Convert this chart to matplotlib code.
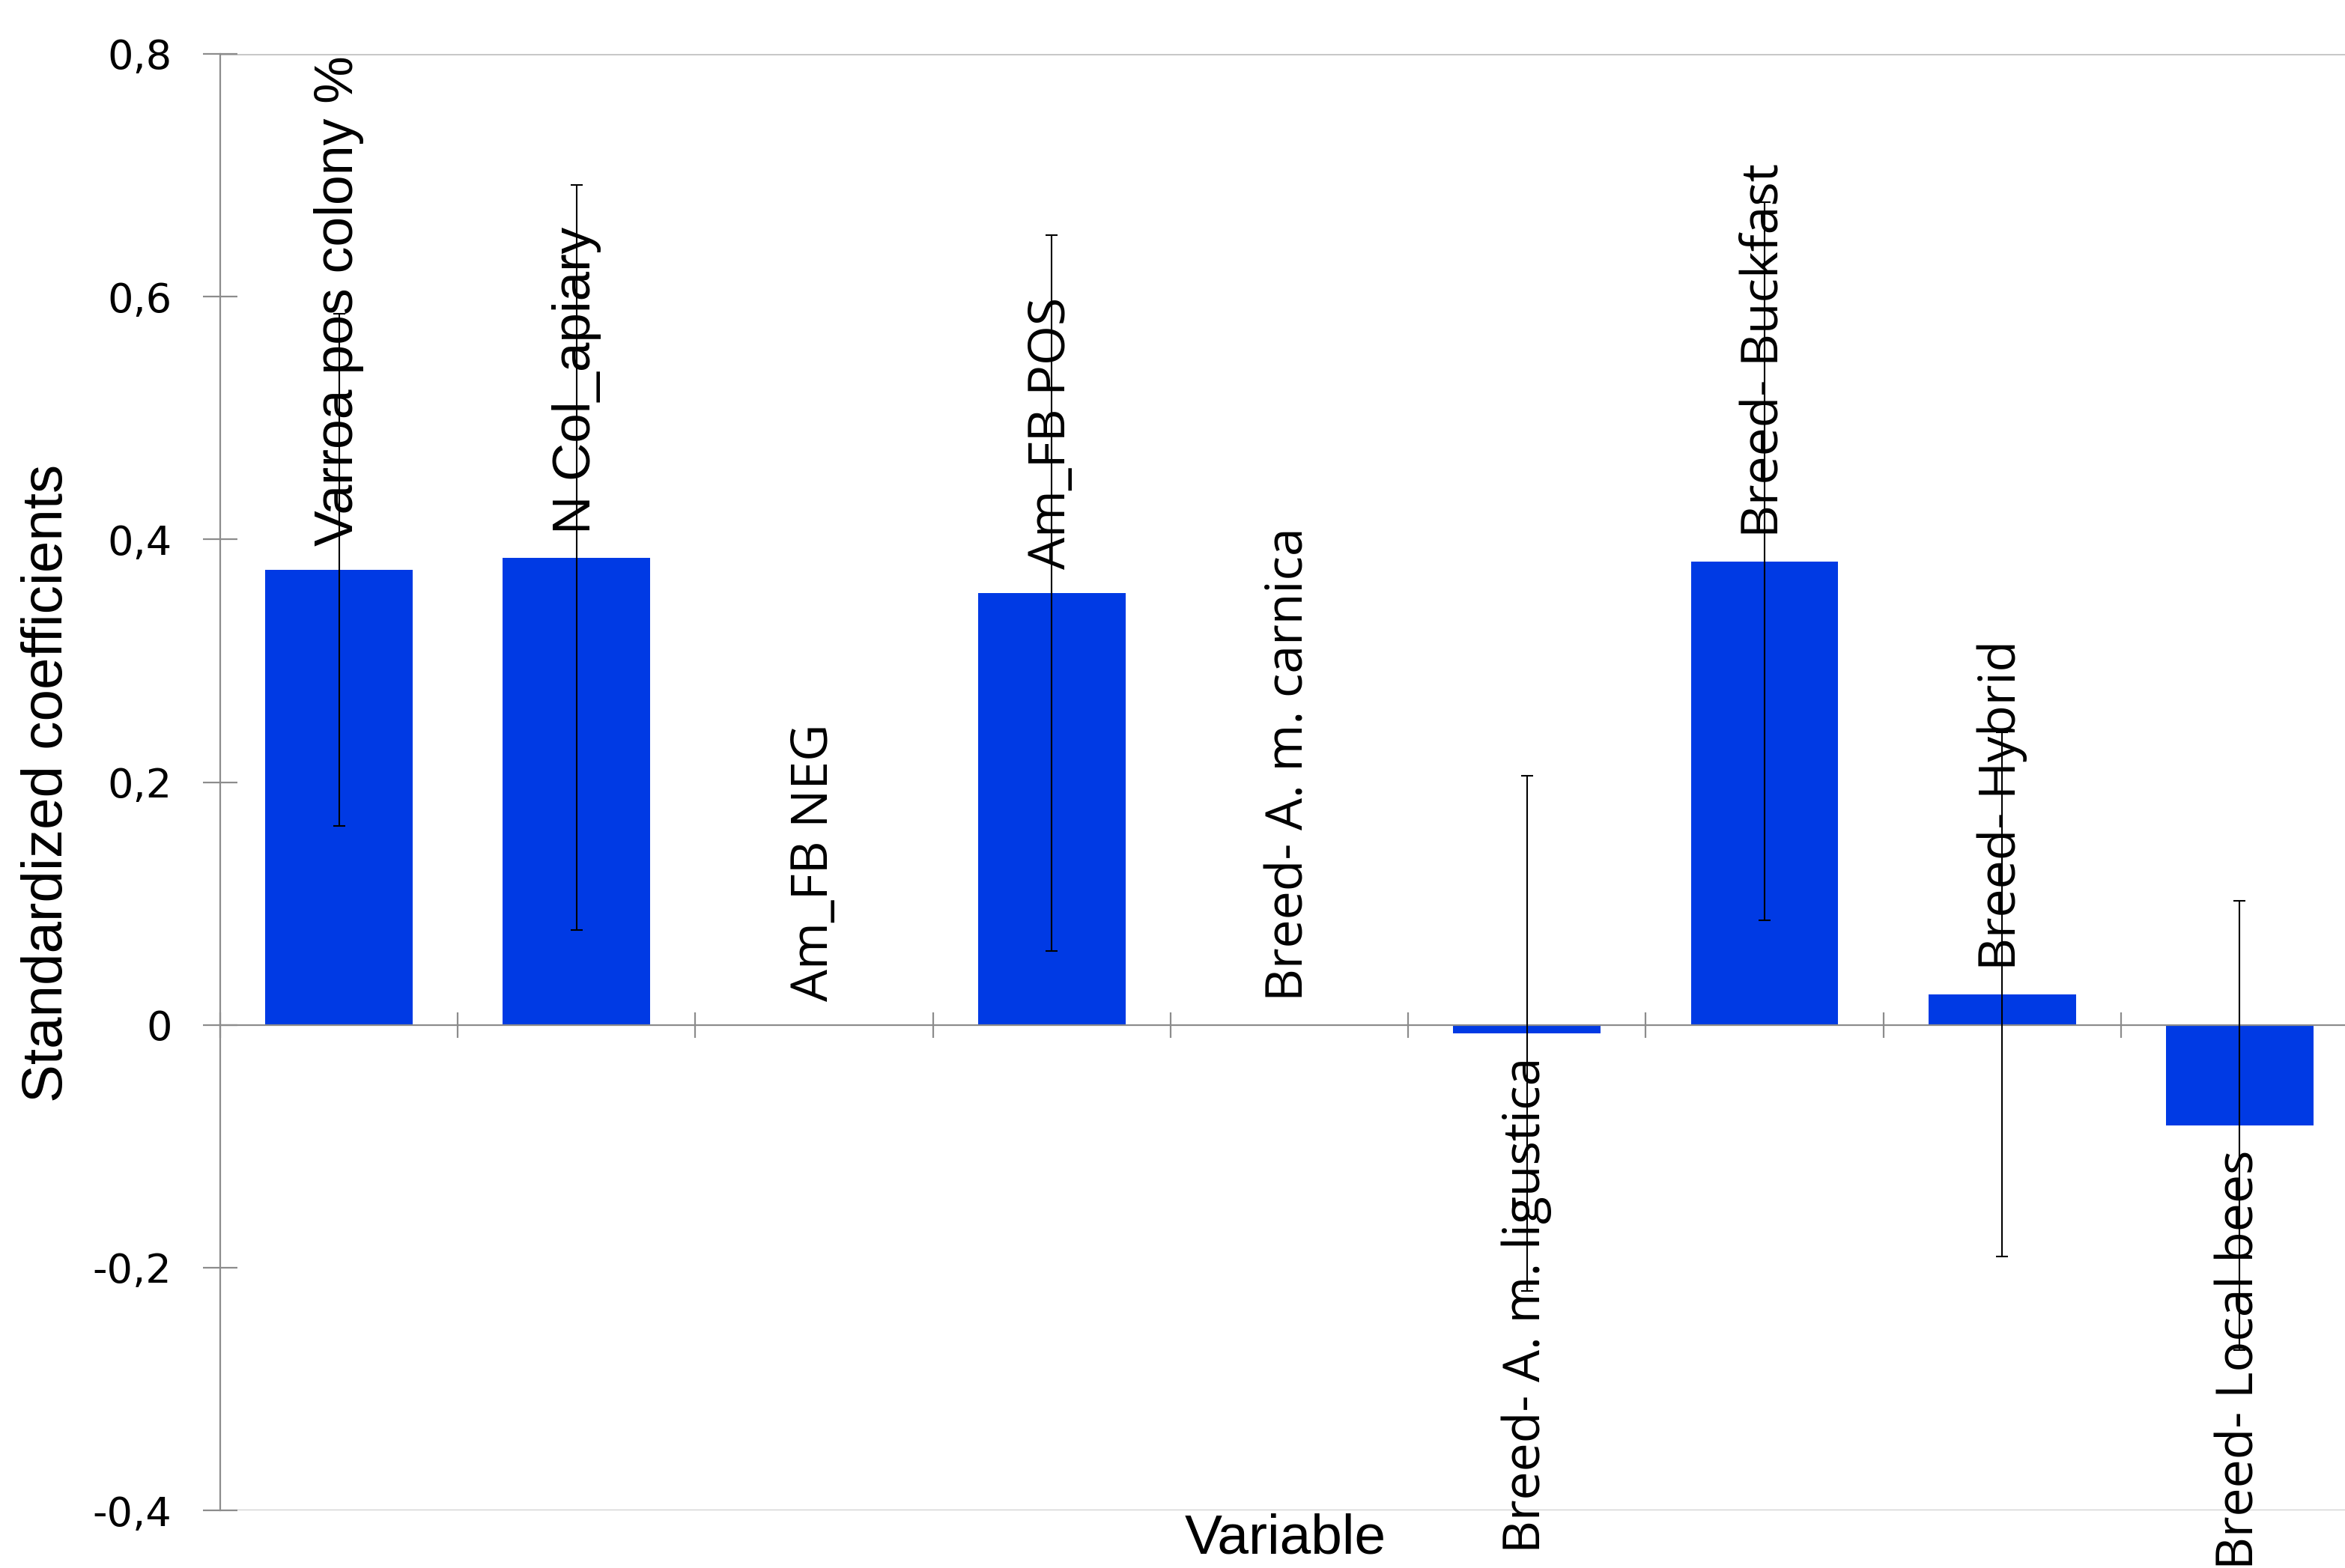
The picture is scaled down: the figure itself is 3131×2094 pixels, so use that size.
import numpy as np
import matplotlib
matplotlib.use("Agg")
import matplotlib.pyplot as plt
from matplotlib.ticker import FuncFormatter

# dados do grafico
variaveis = ["Varroa pos colony %", "N Col_apiary", "Am_FB NEG", "Am_FB POS",
             "Breed- A. m. carnica", "Breed- A. m. ligustica", "Breed- Buckfast",
             "Breed- Hybrid", "Breed- Local bees"]
coeficientes = [0.375, 0.385, 0.0, 0.356, 0.0, -0.007, 0.382, 0.025, -0.083]
erros = [0.211, 0.307, np.nan, 0.295, np.nan, 0.212, 0.296, 0.216, 0.185]
fonte_rotulo = ["Liberation Sans", "Liberation Sans", "Open Sans", "Open Sans",
                "Open Sans", "Open Sans", "Open Sans", "Open Sans", "Open Sans"]
tamanho_rotulo = [51.5, 51, 49, 49, 49, 49, 49, 49, 49]
y_ticks = [-0.4, -0.2, 0.0, 0.2, 0.4, 0.6, 0.8]

azul = "#003ae4"
cinza = "#8c8c8c"

W, H = 3131, 2094
fig = plt.figure(figsize=(W / 100, H / 100), dpi=100)
# eixo passa da borda direita da figura (o original esta cortado)
ax = fig.add_axes([294 / W, 77 / H, 2855 / W, 1945 / H])

x = np.arange(len(variaveis))
ax.bar(x, coeficientes, width=0.62, color=azul, zorder=2)
ax.errorbar(x, coeficientes, yerr=erros, fmt="none", ecolor="black",
            elinewidth=1.5, capsize=6, capthick=1.5, zorder=3)

# rotulos das barras
for i in range(len(variaveis)):
    v = coeficientes[i]
    if v < 0:
        ax.annotate(variaveis[i], (x[i], v), xytext=(0, -23), textcoords="offset points",
                    rotation=90, ha="center", va="top", fontsize=tamanho_rotulo[i],
                    family=fonte_rotulo[i], zorder=4)
    else:
        ax.annotate(variaveis[i], (x[i], v), xytext=(0, 23), textcoords="offset points",
                    rotation=90, ha="center", va="bottom", fontsize=tamanho_rotulo[i],
                    family=fonte_rotulo[i], zorder=4)

ax.set_xlim(-0.5, len(variaveis) - 0.5)
ax.set_ylim(-0.4, 0.8)

# linhas do topo e da base
ax.axhline(0.8, color="#c8c8c8", lw=2.2, zorder=1)
ax.axhline(-0.4, color="#c8c8c8", lw=2.2, zorder=1)

ax.spines["top"].set_visible(False)
ax.spines["right"].set_visible(False)
ax.spines["left"].set_color(cinza)
ax.spines["left"].set_linewidth(1.6)
ax.spines["bottom"].set_position(("data", 0))
ax.spines["bottom"].set_color(cinza)
ax.spines["bottom"].set_linewidth(1.6)

ax.set_yticks(y_ticks)
ax.yaxis.set_major_formatter(FuncFormatter(
    lambda v, p: "0" if abs(v) < 1e-9 else ("%.1f" % v).replace(".", ",")))
ax.tick_params(axis="y", direction="inout", length=33, width=1.6, color=cinza,
               pad=30, labelsize=39)
ax.set_xticks(np.arange(-0.5, len(variaveis), 1.0))
ax.set_xticklabels([])
ax.tick_params(axis="x", direction="inout", length=24, width=1.6, color=cinza)
for t in ax.get_yticklabels():
    t.set_family("DejaVu Sans")

fig.text(64 / W, 1 - 1046 / H, "Standardized coefficients", rotation=90,
         ha="center", va="center", fontsize=55, family="Liberation Sans")
fig.text(1716 / W, 0.002, "Variable", ha="center", va="bottom",
         fontsize=54, family="Liberation Sans")

fig.savefig("out.png", dpi=100)
